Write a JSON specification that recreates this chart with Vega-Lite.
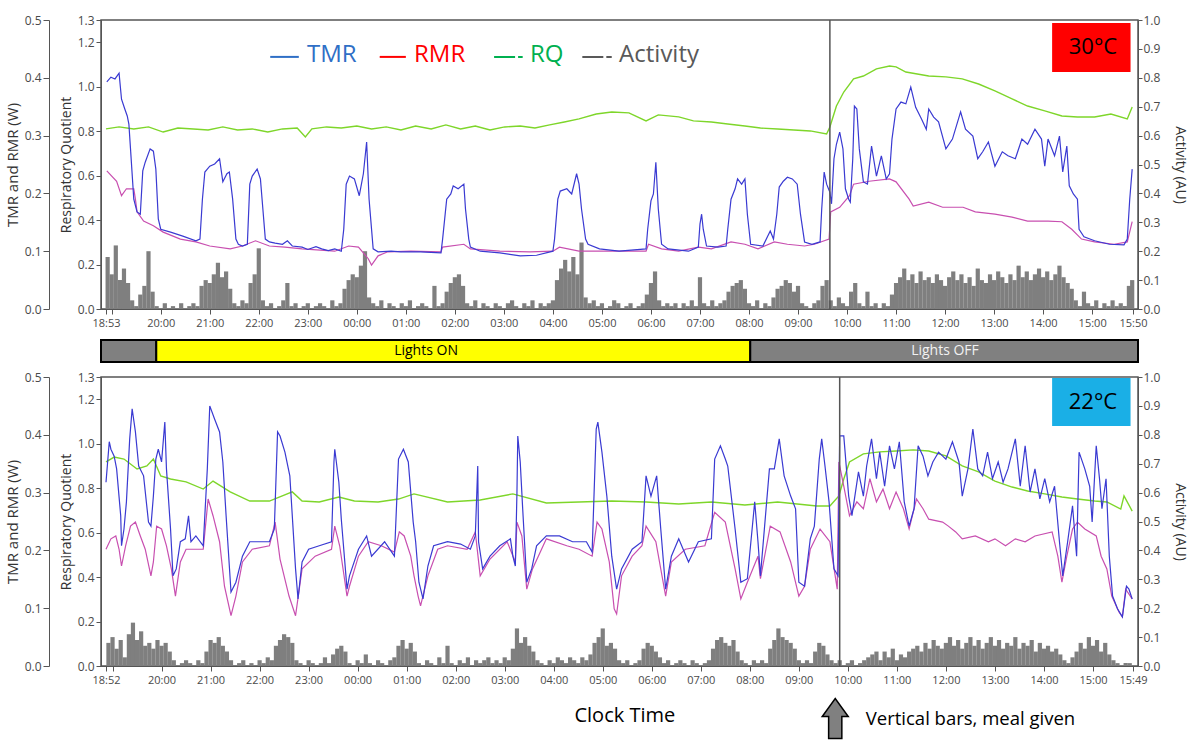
{
"$schema":"https://vega.github.io/schema/vega-lite/v6.json",
"padding":{"left":4,"top":13,"right":5,"bottom":0},
"background":"white",
"spacing":0,
"bounds":"flush",
"datasets":{
"tTMR":[{"m":54,"v":0.393},{"m":59,"v":0.401},{"m":64,"v":0.398},{"m":69,"v":0.408},{"m":72,"v":0.363},{"m":76,"v":0.346},{"m":79,"v":0.334},{"m":81,"v":0.32},{"m":83,"v":0.277},{"m":87,"v":0.19},{"m":91,"v":0.168},{"m":95,"v":0.164},{"m":98,"v":0.239},{"m":101,"v":0.254},{"m":107,"v":0.277},{"m":111,"v":0.273},{"m":114,"v":0.242},{"m":117,"v":0.156},{"m":120,"v":0.138},{"m":132,"v":0.133},{"m":147,"v":0.126},{"m":163,"v":0.118},{"m":168,"v":0.121},{"m":171,"v":0.19},{"m":174,"v":0.237},{"m":180,"v":0.247},{"m":186,"v":0.251},{"m":192,"v":0.26},{"m":196,"v":0.22},{"m":201,"v":0.234},{"m":204,"v":0.237},{"m":208,"v":0.19},{"m":212,"v":0.121},{"m":215,"v":0.112},{"m":220,"v":0.109},{"m":226,"v":0.112},{"m":229,"v":0.216},{"m":232,"v":0.23},{"m":238,"v":0.242},{"m":242,"v":0.225},{"m":245,"v":0.173},{"m":248,"v":0.121},{"m":253,"v":0.116},{"m":260,"v":0.114},{"m":269,"v":0.112},{"m":275,"v":0.118},{"m":281,"v":0.109},{"m":293,"v":0.107},{"m":300,"v":0.103},{"m":310,"v":0.108},{"m":317,"v":0.104},{"m":325,"v":0.101},{"m":333,"v":0.104},{"m":341,"v":0.1},{"m":344,"v":0.138},{"m":347,"v":0.216},{"m":351,"v":0.23},{"m":357,"v":0.225},{"m":363,"v":0.196},{"m":368,"v":0.234},{"m":372,"v":0.289},{"m":375,"v":0.19},{"m":380,"v":0.104},{"m":386,"v":0.099},{"m":402,"v":0.1},{"m":414,"v":0.099},{"m":438,"v":0.099},{"m":463,"v":0.097},{"m":465,"v":0.121},{"m":470,"v":0.19},{"m":475,"v":0.199},{"m":478,"v":0.213},{"m":484,"v":0.208},{"m":491,"v":0.216},{"m":493,"v":0.173},{"m":497,"v":0.121},{"m":499,"v":0.107},{"m":511,"v":0.1},{"m":535,"v":0.097},{"m":560,"v":0.092},{"m":580,"v":0.093},{"m":600,"v":0.1},{"m":602,"v":0.121},{"m":606,"v":0.19},{"m":609,"v":0.204},{"m":617,"v":0.208},{"m":623,"v":0.199},{"m":629,"v":0.234},{"m":632,"v":0.216},{"m":635,"v":0.173},{"m":640,"v":0.121},{"m":643,"v":0.112},{"m":657,"v":0.104},{"m":681,"v":0.1},{"m":714,"v":0.104},{"m":716,"v":0.138},{"m":720,"v":0.187},{"m":723,"v":0.199},{"m":726,"v":0.254},{"m":729,"v":0.173},{"m":733,"v":0.112},{"m":741,"v":0.104},{"m":766,"v":0.1},{"m":778,"v":0.107},{"m":780,"v":0.147},{"m":782,"v":0.164},{"m":784,"v":0.138},{"m":788,"v":0.109},{"m":802,"v":0.107},{"m":812,"v":0.109},{"m":814,"v":0.138},{"m":818,"v":0.19},{"m":823,"v":0.208},{"m":826,"v":0.225},{"m":831,"v":0.216},{"m":835,"v":0.225},{"m":838,"v":0.164},{"m":842,"v":0.112},{"m":857,"v":0.109},{"m":866,"v":0.135},{"m":870,"v":0.121},{"m":874,"v":0.164},{"m":877,"v":0.211},{"m":882,"v":0.221},{"m":887,"v":0.228},{"m":893,"v":0.225},{"m":899,"v":0.216},{"m":903,"v":0.164},{"m":908,"v":0.116},{"m":917,"v":0.112},{"m":927,"v":0.116},{"m":929,"v":0.173},{"m":932,"v":0.237},{"m":935,"v":0.216},{"m":939,"v":0.202},{"m":941,"v":0.182},{"m":944,"v":0.26},{"m":947,"v":0.285},{"m":951,"v":0.306},{"m":955,"v":0.277},{"m":958,"v":0.208},{"m":962,"v":0.19},{"m":964,"v":0.185},{"m":967,"v":0.26},{"m":969,"v":0.351},{"m":972,"v":0.346},{"m":975,"v":0.277},{"m":980,"v":0.22},{"m":985,"v":0.216},{"m":990,"v":0.282},{"m":996,"v":0.23},{"m":1002,"v":0.265},{"m":1008,"v":0.225},{"m":1012,"v":0.234},{"m":1015,"v":0.294},{"m":1020,"v":0.346},{"m":1026,"v":0.358},{"m":1032,"v":0.355},{"m":1038,"v":0.384},{"m":1044,"v":0.349},{"m":1051,"v":0.329},{"m":1057,"v":0.311},{"m":1060,"v":0.346},{"m":1066,"v":0.332},{"m":1072,"v":0.324},{"m":1081,"v":0.277},{"m":1089,"v":0.294},{"m":1099,"v":0.341},{"m":1105,"v":0.311},{"m":1114,"v":0.299},{"m":1120,"v":0.26},{"m":1126,"v":0.272},{"m":1133,"v":0.289},{"m":1141,"v":0.247},{"m":1150,"v":0.272},{"m":1157,"v":0.265},{"m":1166,"v":0.26},{"m":1174,"v":0.294},{"m":1181,"v":0.285},{"m":1190,"v":0.311},{"m":1198,"v":0.294},{"m":1202,"v":0.247},{"m":1206,"v":0.294},{"m":1214,"v":0.265},{"m":1220,"v":0.299},{"m":1224,"v":0.237},{"m":1229,"v":0.282},{"m":1232,"v":0.213},{"m":1237,"v":0.199},{"m":1242,"v":0.19},{"m":1244,"v":0.138},{"m":1250,"v":0.125},{"m":1263,"v":0.118},{"m":1281,"v":0.112},{"m":1299,"v":0.111},{"m":1303,"v":0.121},{"m":1306,"v":0.19},{"m":1309,"v":0.242}],
"tRMR":[{"m":54,"v":0.239},{"m":66,"v":0.221},{"m":72,"v":0.196},{"m":78,"v":0.208},{"m":87,"v":0.208},{"m":89,"v":0.19},{"m":91,"v":0.168},{"m":99,"v":0.152},{"m":111,"v":0.144},{"m":123,"v":0.133},{"m":144,"v":0.121},{"m":163,"v":0.116},{"m":180,"v":0.109},{"m":205,"v":0.104},{"m":220,"v":0.109},{"m":236,"v":0.118},{"m":253,"v":0.109},{"m":272,"v":0.107},{"m":293,"v":0.104},{"m":333,"v":0.1},{"m":350,"v":0.109},{"m":362,"v":0.107},{"m":374,"v":0.087},{"m":378,"v":0.076},{"m":386,"v":0.092},{"m":398,"v":0.099},{"m":426,"v":0.1},{"m":463,"v":0.099},{"m":465,"v":0.107},{"m":491,"v":0.112},{"m":499,"v":0.104},{"m":535,"v":0.1},{"m":572,"v":0.099},{"m":600,"v":0.1},{"m":608,"v":0.107},{"m":632,"v":0.1},{"m":681,"v":0.1},{"m":714,"v":0.1},{"m":717,"v":0.112},{"m":733,"v":0.104},{"m":754,"v":0.1},{"m":778,"v":0.107},{"m":794,"v":0.104},{"m":818,"v":0.116},{"m":835,"v":0.112},{"m":851,"v":0.104},{"m":871,"v":0.116},{"m":887,"v":0.112},{"m":908,"v":0.109},{"m":920,"v":0.112},{"m":938,"v":0.121},{"m":940,"v":0.168},{"m":951,"v":0.176},{"m":963,"v":0.196},{"m":968,"v":0.216},{"m":987,"v":0.221},{"m":1012,"v":0.225},{"m":1020,"v":0.22},{"m":1036,"v":0.19},{"m":1041,"v":0.178},{"m":1060,"v":0.185},{"m":1077,"v":0.176},{"m":1102,"v":0.176},{"m":1117,"v":0.168},{"m":1141,"v":0.164},{"m":1162,"v":0.159},{"m":1181,"v":0.152},{"m":1206,"v":0.152},{"m":1223,"v":0.151},{"m":1235,"v":0.138},{"m":1247,"v":0.121},{"m":1263,"v":0.116},{"m":1287,"v":0.112},{"m":1303,"v":0.116},{"m":1309,"v":0.151}],
"tRQ":[{"m":53,"v":0.81},{"m":69,"v":0.819},{"m":87,"v":0.81},{"m":105,"v":0.819},{"m":123,"v":0.796},{"m":141,"v":0.814},{"m":160,"v":0.81},{"m":178,"v":0.805},{"m":196,"v":0.819},{"m":214,"v":0.805},{"m":232,"v":0.81},{"m":251,"v":0.796},{"m":269,"v":0.81},{"m":287,"v":0.814},{"m":297,"v":0.774},{"m":305,"v":0.81},{"m":323,"v":0.819},{"m":341,"v":0.814},{"m":360,"v":0.823},{"m":378,"v":0.81},{"m":396,"v":0.819},{"m":414,"v":0.805},{"m":432,"v":0.823},{"m":451,"v":0.81},{"m":469,"v":0.828},{"m":487,"v":0.81},{"m":505,"v":0.823},{"m":523,"v":0.805},{"m":541,"v":0.819},{"m":560,"v":0.823},{"m":578,"v":0.814},{"m":596,"v":0.828},{"m":614,"v":0.841},{"m":632,"v":0.855},{"m":653,"v":0.877},{"m":672,"v":0.886},{"m":693,"v":0.882},{"m":714,"v":0.846},{"m":729,"v":0.873},{"m":754,"v":0.864},{"m":772,"v":0.846},{"m":794,"v":0.841},{"m":814,"v":0.832},{"m":835,"v":0.823},{"m":854,"v":0.814},{"m":875,"v":0.81},{"m":895,"v":0.805},{"m":915,"v":0.801},{"m":935,"v":0.787},{"m":939,"v":0.819},{"m":947,"v":0.913},{"m":956,"v":0.976},{"m":968,"v":1.035},{"m":980,"v":1.048},{"m":996,"v":1.08},{"m":1012,"v":1.093},{"m":1020,"v":1.089},{"m":1032,"v":1.066},{"m":1060,"v":1.048},{"m":1081,"v":1.044},{"m":1101,"v":1.035},{"m":1121,"v":1.012},{"m":1141,"v":0.981},{"m":1162,"v":0.945},{"m":1181,"v":0.913},{"m":1202,"v":0.891},{"m":1223,"v":0.868},{"m":1242,"v":0.864},{"m":1263,"v":0.864},{"m":1283,"v":0.877},{"m":1303,"v":0.855},{"m":1309,"v":0.909}],
"tAct":[{"m":55,"a":0.18},{"m":60,"a":0.12},{"m":65,"a":0.22},{"m":70,"a":0.1},{"m":75,"a":0.14},{"m":80,"a":0.09},{"m":85,"a":0.03},{"m":90,"a":0.01},{"m":95,"a":0.05},{"m":100,"a":0.08},{"m":105,"a":0.2},{"m":110,"a":0.06},{"m":115,"a":0.01},{"m":120,"a":0},{"m":125,"a":0.02},{"m":130,"a":0},{"m":135,"a":0.01},{"m":140,"a":0},{"m":145,"a":0.02},{"m":150,"a":0},{"m":155,"a":0.01},{"m":160,"a":0.02},{"m":165,"a":0.01},{"m":170,"a":0.08},{"m":175,"a":0.1},{"m":180,"a":0.09},{"m":185,"a":0.12},{"m":190,"a":0.16},{"m":195,"a":0.11},{"m":200,"a":0.13},{"m":205,"a":0.07},{"m":210,"a":0.02},{"m":215,"a":0.01},{"m":220,"a":0.03},{"m":225,"a":0.02},{"m":230,"a":0.09},{"m":235,"a":0.12},{"m":240,"a":0.21},{"m":245,"a":0.03},{"m":250,"a":0.01},{"m":255,"a":0.02},{"m":260,"a":0},{"m":265,"a":0.01},{"m":270,"a":0.03},{"m":275,"a":0.09},{"m":280,"a":0.01},{"m":285,"a":0.02},{"m":290,"a":0},{"m":295,"a":0.01},{"m":300,"a":0.02},{"m":305,"a":0},{"m":310,"a":0.01},{"m":315,"a":0.02},{"m":320,"a":0.01},{"m":325,"a":0},{"m":330,"a":0.03},{"m":335,"a":0.01},{"m":340,"a":0.02},{"m":345,"a":0.07},{"m":350,"a":0.1},{"m":355,"a":0.12},{"m":360,"a":0.11},{"m":365,"a":0.15},{"m":370,"a":0.2},{"m":375,"a":0.04},{"m":380,"a":0.02},{"m":385,"a":0.01},{"m":390,"a":0.03},{"m":395,"a":0},{"m":400,"a":0.02},{"m":405,"a":0.01},{"m":410,"a":0},{"m":415,"a":0.02},{"m":420,"a":0.01},{"m":425,"a":0.03},{"m":430,"a":0},{"m":435,"a":0.01},{"m":440,"a":0.02},{"m":445,"a":0.01},{"m":450,"a":0},{"m":455,"a":0.08},{"m":460,"a":0.01},{"m":465,"a":0.02},{"m":470,"a":0.06},{"m":475,"a":0.09},{"m":480,"a":0.11},{"m":485,"a":0.12},{"m":490,"a":0.08},{"m":495,"a":0.02},{"m":500,"a":0.01},{"m":505,"a":0.03},{"m":510,"a":0},{"m":515,"a":0.02},{"m":520,"a":0.01},{"m":525,"a":0},{"m":530,"a":0.02},{"m":535,"a":0.01},{"m":540,"a":0},{"m":545,"a":0.02},{"m":550,"a":0.03},{"m":555,"a":0.01},{"m":560,"a":0},{"m":565,"a":0.02},{"m":570,"a":0.01},{"m":575,"a":0.03},{"m":580,"a":0},{"m":585,"a":0.02},{"m":590,"a":0.01},{"m":595,"a":0.02},{"m":600,"a":0.03},{"m":605,"a":0.1},{"m":610,"a":0.14},{"m":615,"a":0.17},{"m":620,"a":0.13},{"m":625,"a":0.18},{"m":630,"a":0.12},{"m":635,"a":0.23},{"m":640,"a":0.04},{"m":645,"a":0.02},{"m":650,"a":0.03},{"m":655,"a":0.01},{"m":660,"a":0.02},{"m":665,"a":0},{"m":670,"a":0.01},{"m":675,"a":0.03},{"m":680,"a":0.02},{"m":685,"a":0},{"m":690,"a":0.01},{"m":695,"a":0.02},{"m":700,"a":0},{"m":705,"a":0.01},{"m":710,"a":0.02},{"m":715,"a":0.05},{"m":720,"a":0.09},{"m":725,"a":0.13},{"m":730,"a":0.03},{"m":735,"a":0.01},{"m":740,"a":0.02},{"m":745,"a":0.01},{"m":750,"a":0.02},{"m":755,"a":0},{"m":760,"a":0.02},{"m":765,"a":0.01},{"m":770,"a":0.03},{"m":775,"a":0.01},{"m":780,"a":0.11},{"m":785,"a":0.02},{"m":790,"a":0.01},{"m":795,"a":0.03},{"m":800,"a":0.01},{"m":805,"a":0.02},{"m":810,"a":0.03},{"m":815,"a":0.06},{"m":820,"a":0.08},{"m":825,"a":0.09},{"m":830,"a":0.1},{"m":835,"a":0.07},{"m":840,"a":0.02},{"m":845,"a":0.01},{"m":850,"a":0.03},{"m":855,"a":0},{"m":860,"a":0.02},{"m":865,"a":0.01},{"m":870,"a":0.04},{"m":875,"a":0.07},{"m":880,"a":0.08},{"m":885,"a":0.1},{"m":890,"a":0.09},{"m":895,"a":0.06},{"m":900,"a":0.08},{"m":905,"a":0.02},{"m":910,"a":0.01},{"m":915,"a":0},{"m":920,"a":0.02},{"m":925,"a":0.03},{"m":930,"a":0.08},{"m":935,"a":0.1},{"m":940,"a":0.03},{"m":945,"a":0.01},{"m":950,"a":0.04},{"m":955,"a":0.02},{"m":960,"a":0.01},{"m":965,"a":0.06},{"m":970,"a":0.09},{"m":975,"a":0.02},{"m":980,"a":0.01},{"m":985,"a":0.06},{"m":990,"a":0.01},{"m":995,"a":0.02},{"m":1000,"a":0},{"m":1005,"a":0.02},{"m":1010,"a":0.01},{"m":1015,"a":0.05},{"m":1020,"a":0.09},{"m":1025,"a":0.11},{"m":1030,"a":0.14},{"m":1035,"a":0.1},{"m":1040,"a":0.12},{"m":1045,"a":0.09},{"m":1050,"a":0.13},{"m":1055,"a":0.1},{"m":1060,"a":0.11},{"m":1065,"a":0.09},{"m":1070,"a":0.12},{"m":1075,"a":0.1},{"m":1080,"a":0.08},{"m":1085,"a":0.11},{"m":1090,"a":0.13},{"m":1095,"a":0.1},{"m":1100,"a":0.12},{"m":1105,"a":0.09},{"m":1110,"a":0.11},{"m":1115,"a":0.08},{"m":1120,"a":0.14},{"m":1125,"a":0.1},{"m":1130,"a":0.09},{"m":1135,"a":0.12},{"m":1140,"a":0.1},{"m":1145,"a":0.13},{"m":1150,"a":0.11},{"m":1155,"a":0.09},{"m":1160,"a":0.12},{"m":1165,"a":0.1},{"m":1170,"a":0.15},{"m":1175,"a":0.11},{"m":1180,"a":0.13},{"m":1185,"a":0.1},{"m":1190,"a":0.12},{"m":1195,"a":0.14},{"m":1200,"a":0.11},{"m":1205,"a":0.13},{"m":1210,"a":0.1},{"m":1215,"a":0.12},{"m":1220,"a":0.15},{"m":1225,"a":0.11},{"m":1230,"a":0.09},{"m":1235,"a":0.07},{"m":1240,"a":0.03},{"m":1245,"a":0.01},{"m":1250,"a":0.06},{"m":1255,"a":0.02},{"m":1260,"a":0.01},{"m":1265,"a":0.03},{"m":1270,"a":0},{"m":1275,"a":0.02},{"m":1280,"a":0.01},{"m":1285,"a":0.03},{"m":1290,"a":0.01},{"m":1295,"a":0.02},{"m":1300,"a":0.01},{"m":1305,"a":0.08},{"m":1309,"a":0.1}],
"bTMR":[{"m":52,"v":0.318},{"m":56,"v":0.388},{"m":58,"v":0.375},{"m":62,"v":0.363},{"m":65,"v":0.341},{"m":70,"v":0.26},{"m":71,"v":0.208},{"m":74,"v":0.237},{"m":77,"v":0.284},{"m":81,"v":0.393},{"m":84,"v":0.445},{"m":88,"v":0.405},{"m":92,"v":0.346},{"m":98,"v":0.329},{"m":104,"v":0.249},{"m":107,"v":0.242},{"m":110,"v":0.294},{"m":113,"v":0.358},{"m":116,"v":0.375},{"m":120,"v":0.353},{"m":124,"v":0.422},{"m":126,"v":0.341},{"m":131,"v":0.237},{"m":134,"v":0.156},{"m":138,"v":0.168},{"m":143,"v":0.215},{"m":149,"v":0.22},{"m":153,"v":0.26},{"m":156,"v":0.215},{"m":162,"v":0.225},{"m":171,"v":0.208},{"m":176,"v":0.341},{"m":179,"v":0.45},{"m":185,"v":0.427},{"m":191,"v":0.405},{"m":195,"v":0.353},{"m":199,"v":0.26},{"m":205,"v":0.128},{"m":211,"v":0.145},{"m":219,"v":0.19},{"m":228,"v":0.215},{"m":240,"v":0.215},{"m":252,"v":0.215},{"m":258,"v":0.237},{"m":262,"v":0.405},{"m":265,"v":0.398},{"m":271,"v":0.37},{"m":277,"v":0.329},{"m":284,"v":0.168},{"m":287,"v":0.116},{"m":292,"v":0.18},{"m":300,"v":0.202},{"m":313,"v":0.208},{"m":328,"v":0.215},{"m":331,"v":0.353},{"m":332,"v":0.375},{"m":337,"v":0.318},{"m":340,"v":0.254},{"m":347,"v":0.133},{"m":350,"v":0.156},{"m":361,"v":0.202},{"m":371,"v":0.225},{"m":377,"v":0.19},{"m":393,"v":0.215},{"m":405,"v":0.19},{"m":410,"v":0.358},{"m":416,"v":0.375},{"m":422,"v":0.353},{"m":428,"v":0.249},{"m":431,"v":0.215},{"m":435,"v":0.145},{"m":440,"v":0.116},{"m":446,"v":0.173},{"m":453,"v":0.208},{"m":470,"v":0.215},{"m":486,"v":0.211},{"m":498,"v":0.202},{"m":504,"v":0.225},{"m":507,"v":0.346},{"m":508,"v":0.215},{"m":513,"v":0.168},{"m":522,"v":0.19},{"m":534,"v":0.208},{"m":547,"v":0.22},{"m":550,"v":0.19},{"m":553,"v":0.173},{"m":555,"v":0.301},{"m":556,"v":0.398},{"m":559,"v":0.353},{"m":562,"v":0.272},{"m":567,"v":0.145},{"m":573,"v":0.168},{"m":579,"v":0.208},{"m":591,"v":0.225},{"m":607,"v":0.225},{"m":623,"v":0.215},{"m":640,"v":0.215},{"m":647,"v":0.197},{"m":652,"v":0.41},{"m":654,"v":0.422},{"m":659,"v":0.37},{"m":665,"v":0.294},{"m":671,"v":0.19},{"m":677,"v":0.133},{"m":683,"v":0.168},{"m":696,"v":0.202},{"m":708,"v":0.215},{"m":713,"v":0.329},{"m":719,"v":0.294},{"m":726,"v":0.329},{"m":731,"v":0.237},{"m":737,"v":0.133},{"m":744,"v":0.19},{"m":753,"v":0.22},{"m":765,"v":0.18},{"m":777,"v":0.215},{"m":793,"v":0.22},{"m":797,"v":0.358},{"m":804,"v":0.381},{"m":810,"v":0.358},{"m":813,"v":0.346},{"m":822,"v":0.237},{"m":829,"v":0.145},{"m":837,"v":0.151},{"m":846,"v":0.284},{"m":850,"v":0.215},{"m":853,"v":0.156},{"m":864,"v":0.341},{"m":870,"v":0.341},{"m":876,"v":0.393},{"m":882,"v":0.329},{"m":890,"v":0.294},{"m":896,"v":0.272},{"m":900,"v":0.145},{"m":907,"v":0.138},{"m":914,"v":0.22},{"m":919,"v":0.242},{"m":925,"v":0.358},{"m":928,"v":0.393},{"m":932,"v":0.346},{"m":937,"v":0.284},{"m":943,"v":0.168},{"m":948,"v":0.156},{"m":950,"v":0.398},{"m":955,"v":0.398},{"m":961,"v":0.294},{"m":965,"v":0.26},{"m":973,"v":0.336},{"m":979,"v":0.294},{"m":983,"v":0.346},{"m":989,"v":0.393},{"m":995,"v":0.324},{"m":999,"v":0.37},{"m":1005,"v":0.311},{"m":1011,"v":0.381},{"m":1017,"v":0.341},{"m":1023,"v":0.388},{"m":1029,"v":0.284},{"m":1035,"v":0.242},{"m":1041,"v":0.272},{"m":1046,"v":0.381},{"m":1052,"v":0.363},{"m":1058,"v":0.329},{"m":1064,"v":0.353},{"m":1071,"v":0.37},{"m":1080,"v":0.358},{"m":1088,"v":0.388},{"m":1096,"v":0.353},{"m":1100,"v":0.294},{"m":1107,"v":0.341},{"m":1113,"v":0.41},{"m":1119,"v":0.341},{"m":1125,"v":0.329},{"m":1131,"v":0.37},{"m":1137,"v":0.324},{"m":1144,"v":0.353},{"m":1150,"v":0.318},{"m":1156,"v":0.341},{"m":1165,"v":0.393},{"m":1171,"v":0.311},{"m":1177,"v":0.381},{"m":1183,"v":0.301},{"m":1189,"v":0.341},{"m":1195,"v":0.289},{"m":1201,"v":0.324},{"m":1207,"v":0.284},{"m":1213,"v":0.311},{"m":1219,"v":0.215},{"m":1223,"v":0.156},{"m":1229,"v":0.215},{"m":1235,"v":0.277},{"m":1240,"v":0.19},{"m":1243,"v":0.37},{"m":1250,"v":0.341},{"m":1256,"v":0.311},{"m":1259,"v":0.249},{"m":1264,"v":0.381},{"m":1268,"v":0.324},{"m":1271,"v":0.272},{"m":1276,"v":0.324},{"m":1280,"v":0.19},{"m":1284,"v":0.121},{"m":1290,"v":0.099},{"m":1296,"v":0.085},{"m":1301,"v":0.138},{"m":1304,"v":0.133},{"m":1308,"v":0.116}],
"bRMR":[{"m":52,"v":0.202},{"m":58,"v":0.22},{"m":64,"v":0.225},{"m":68,"v":0.202},{"m":71,"v":0.173},{"m":76,"v":0.208},{"m":82,"v":0.242},{"m":88,"v":0.249},{"m":94,"v":0.225},{"m":100,"v":0.202},{"m":107,"v":0.156},{"m":110,"v":0.18},{"m":114,"v":0.242},{"m":120,"v":0.237},{"m":126,"v":0.208},{"m":132,"v":0.168},{"m":137,"v":0.121},{"m":143,"v":0.18},{"m":150,"v":0.202},{"m":161,"v":0.202},{"m":171,"v":0.202},{"m":177,"v":0.289},{"m":183,"v":0.26},{"m":191,"v":0.215},{"m":197,"v":0.138},{"m":205,"v":0.087},{"m":211,"v":0.121},{"m":219,"v":0.18},{"m":231,"v":0.202},{"m":252,"v":0.208},{"m":259,"v":0.249},{"m":265,"v":0.185},{"m":276,"v":0.121},{"m":284,"v":0.087},{"m":292,"v":0.168},{"m":308,"v":0.19},{"m":328,"v":0.202},{"m":332,"v":0.242},{"m":338,"v":0.208},{"m":347,"v":0.121},{"m":350,"v":0.138},{"m":361,"v":0.19},{"m":373,"v":0.215},{"m":389,"v":0.208},{"m":405,"v":0.197},{"m":411,"v":0.232},{"m":417,"v":0.225},{"m":425,"v":0.19},{"m":429,"v":0.156},{"m":434,"v":0.121},{"m":437,"v":0.104},{"m":446,"v":0.156},{"m":458,"v":0.202},{"m":470,"v":0.208},{"m":494,"v":0.202},{"m":504,"v":0.232},{"m":510,"v":0.156},{"m":522,"v":0.185},{"m":543,"v":0.215},{"m":553,"v":0.18},{"m":555,"v":0.249},{"m":561,"v":0.225},{"m":567,"v":0.133},{"m":574,"v":0.168},{"m":591,"v":0.22},{"m":616,"v":0.208},{"m":631,"v":0.202},{"m":647,"v":0.19},{"m":653,"v":0.249},{"m":659,"v":0.237},{"m":668,"v":0.18},{"m":674,"v":0.099},{"m":677,"v":0.09},{"m":683,"v":0.156},{"m":696,"v":0.19},{"m":708,"v":0.208},{"m":713,"v":0.242},{"m":725,"v":0.215},{"m":737,"v":0.121},{"m":744,"v":0.18},{"m":761,"v":0.202},{"m":785,"v":0.208},{"m":797,"v":0.266},{"m":810,"v":0.249},{"m":822,"v":0.168},{"m":829,"v":0.116},{"m":837,"v":0.145},{"m":850,"v":0.19},{"m":853,"v":0.151},{"m":865,"v":0.242},{"m":877,"v":0.232},{"m":890,"v":0.18},{"m":900,"v":0.121},{"m":907,"v":0.138},{"m":914,"v":0.202},{"m":926,"v":0.237},{"m":938,"v":0.215},{"m":947,"v":0.133},{"m":949,"v":0.353},{"m":955,"v":0.311},{"m":962,"v":0.26},{"m":971,"v":0.284},{"m":979,"v":0.272},{"m":987,"v":0.324},{"m":995,"v":0.284},{"m":1003,"v":0.306},{"m":1011,"v":0.272},{"m":1019,"v":0.301},{"m":1028,"v":0.272},{"m":1035,"v":0.237},{"m":1044,"v":0.289},{"m":1052,"v":0.272},{"m":1059,"v":0.254},{"m":1076,"v":0.249},{"m":1083,"v":0.242},{"m":1092,"v":0.232},{"m":1100,"v":0.22},{"m":1116,"v":0.225},{"m":1132,"v":0.215},{"m":1140,"v":0.22},{"m":1153,"v":0.208},{"m":1165,"v":0.22},{"m":1177,"v":0.215},{"m":1189,"v":0.225},{"m":1210,"v":0.232},{"m":1217,"v":0.19},{"m":1222,"v":0.145},{"m":1228,"v":0.19},{"m":1235,"v":0.237},{"m":1241,"v":0.249},{"m":1250,"v":0.237},{"m":1264,"v":0.225},{"m":1270,"v":0.19},{"m":1277,"v":0.168},{"m":1283,"v":0.121},{"m":1292,"v":0.093},{"m":1296,"v":0.085},{"m":1300,"v":0.133},{"m":1308,"v":0.116}],
"bRQ":[{"m":52,"v":0.918},{"m":62,"v":0.94},{"m":74,"v":0.931},{"m":90,"v":0.886},{"m":102,"v":0.9},{"m":110,"v":0.931},{"m":119,"v":0.855},{"m":131,"v":0.841},{"m":150,"v":0.828},{"m":171,"v":0.796},{"m":183,"v":0.832},{"m":204,"v":0.783},{"m":228,"v":0.742},{"m":252,"v":0.742},{"m":280,"v":0.783},{"m":292,"v":0.742},{"m":313,"v":0.738},{"m":337,"v":0.76},{"m":356,"v":0.742},{"m":385,"v":0.738},{"m":410,"v":0.751},{"m":429,"v":0.774},{"m":470,"v":0.738},{"m":510,"v":0.747},{"m":550,"v":0.774},{"m":591,"v":0.733},{"m":631,"v":0.738},{"m":671,"v":0.742},{"m":713,"v":0.738},{"m":753,"v":0.729},{"m":793,"v":0.738},{"m":834,"v":0.724},{"m":874,"v":0.738},{"m":898,"v":0.729},{"m":922,"v":0.72},{"m":938,"v":0.72},{"m":949,"v":0.765},{"m":955,"v":0.841},{"m":962,"v":0.918},{"m":979,"v":0.954},{"m":999,"v":0.963},{"m":1019,"v":0.967},{"m":1040,"v":0.972},{"m":1059,"v":0.967},{"m":1080,"v":0.945},{"m":1100,"v":0.9},{"m":1120,"v":0.873},{"m":1140,"v":0.832},{"m":1161,"v":0.805},{"m":1180,"v":0.787},{"m":1201,"v":0.774},{"m":1222,"v":0.76},{"m":1241,"v":0.751},{"m":1262,"v":0.742},{"m":1277,"v":0.738},{"m":1294,"v":0.706},{"m":1298,"v":0.765},{"m":1308,"v":0.697}],
"bAct":[{"m":55,"a":0.08},{"m":60,"a":0.1},{"m":65,"a":0.06},{"m":70,"a":0.09},{"m":75,"a":0.03},{"m":80,"a":0.11},{"m":85,"a":0.15},{"m":90,"a":0.09},{"m":95,"a":0.12},{"m":100,"a":0.07},{"m":105,"a":0.08},{"m":110,"a":0.06},{"m":115,"a":0.09},{"m":120,"a":0.07},{"m":125,"a":0.08},{"m":130,"a":0.05},{"m":135,"a":0.02},{"m":140,"a":0},{"m":145,"a":0.01},{"m":150,"a":0.02},{"m":155,"a":0.01},{"m":160,"a":0},{"m":165,"a":0.02},{"m":170,"a":0.01},{"m":175,"a":0.05},{"m":180,"a":0.09},{"m":185,"a":0.08},{"m":190,"a":0.1},{"m":195,"a":0.07},{"m":200,"a":0.05},{"m":205,"a":0.02},{"m":210,"a":0},{"m":215,"a":0.01},{"m":220,"a":0.02},{"m":225,"a":0},{"m":230,"a":0.01},{"m":235,"a":0},{"m":240,"a":0.02},{"m":245,"a":0.01},{"m":250,"a":0.03},{"m":255,"a":0.02},{"m":260,"a":0.07},{"m":265,"a":0.09},{"m":270,"a":0.11},{"m":275,"a":0.1},{"m":280,"a":0.08},{"m":285,"a":0.02},{"m":290,"a":0.01},{"m":295,"a":0},{"m":300,"a":0.02},{"m":305,"a":0.01},{"m":310,"a":0},{"m":315,"a":0.01},{"m":320,"a":0.03},{"m":325,"a":0.01},{"m":330,"a":0.04},{"m":335,"a":0.06},{"m":340,"a":0.07},{"m":345,"a":0.05},{"m":350,"a":0.01},{"m":355,"a":0},{"m":360,"a":0.02},{"m":365,"a":0.01},{"m":370,"a":0.04},{"m":375,"a":0.01},{"m":380,"a":0},{"m":385,"a":0.02},{"m":390,"a":0.01},{"m":395,"a":0},{"m":400,"a":0.02},{"m":405,"a":0.03},{"m":410,"a":0.07},{"m":415,"a":0.09},{"m":420,"a":0.06},{"m":425,"a":0.08},{"m":430,"a":0.05},{"m":435,"a":0.01},{"m":440,"a":0},{"m":445,"a":0.02},{"m":450,"a":0.01},{"m":455,"a":0},{"m":460,"a":0.03},{"m":465,"a":0.01},{"m":470,"a":0.07},{"m":475,"a":0.01},{"m":480,"a":0},{"m":485,"a":0.02},{"m":490,"a":0.01},{"m":495,"a":0.03},{"m":500,"a":0},{"m":505,"a":0.02},{"m":510,"a":0.01},{"m":515,"a":0.02},{"m":520,"a":0.03},{"m":525,"a":0.01},{"m":530,"a":0.02},{"m":535,"a":0.01},{"m":540,"a":0.03},{"m":545,"a":0.02},{"m":550,"a":0.06},{"m":555,"a":0.13},{"m":560,"a":0.08},{"m":565,"a":0.1},{"m":570,"a":0.07},{"m":575,"a":0.05},{"m":580,"a":0.02},{"m":585,"a":0.01},{"m":590,"a":0},{"m":595,"a":0.02},{"m":600,"a":0.01},{"m":605,"a":0.03},{"m":610,"a":0.02},{"m":615,"a":0.01},{"m":620,"a":0.03},{"m":625,"a":0.02},{"m":630,"a":0.01},{"m":635,"a":0.03},{"m":640,"a":0.02},{"m":645,"a":0.04},{"m":650,"a":0.08},{"m":655,"a":0.1},{"m":660,"a":0.13},{"m":665,"a":0.07},{"m":670,"a":0.08},{"m":675,"a":0.06},{"m":680,"a":0.02},{"m":685,"a":0.01},{"m":690,"a":0.02},{"m":695,"a":0},{"m":700,"a":0.01},{"m":705,"a":0.02},{"m":710,"a":0.06},{"m":715,"a":0.08},{"m":720,"a":0.07},{"m":725,"a":0.05},{"m":730,"a":0.03},{"m":735,"a":0.01},{"m":740,"a":0.02},{"m":745,"a":0},{"m":750,"a":0.01},{"m":755,"a":0.02},{"m":760,"a":0.01},{"m":765,"a":0},{"m":770,"a":0.02},{"m":775,"a":0.01},{"m":780,"a":0},{"m":785,"a":0.01},{"m":790,"a":0.02},{"m":795,"a":0.06},{"m":800,"a":0.09},{"m":805,"a":0.1},{"m":810,"a":0.08},{"m":815,"a":0.07},{"m":820,"a":0.09},{"m":825,"a":0.05},{"m":830,"a":0.02},{"m":835,"a":0.01},{"m":840,"a":0},{"m":845,"a":0.02},{"m":850,"a":0.01},{"m":855,"a":0.02},{"m":860,"a":0.01},{"m":865,"a":0.06},{"m":870,"a":0.09},{"m":875,"a":0.13},{"m":880,"a":0.1},{"m":885,"a":0.09},{"m":890,"a":0.08},{"m":895,"a":0.06},{"m":900,"a":0.02},{"m":905,"a":0.01},{"m":910,"a":0.02},{"m":915,"a":0.01},{"m":920,"a":0.05},{"m":925,"a":0.08},{"m":930,"a":0.07},{"m":935,"a":0.04},{"m":940,"a":0.02},{"m":945,"a":0.01},{"m":950,"a":0.02},{"m":955,"a":0},{"m":960,"a":0.01},{"m":965,"a":0.02},{"m":970,"a":0},{"m":975,"a":0.01},{"m":980,"a":0.02},{"m":985,"a":0.03},{"m":990,"a":0.04},{"m":995,"a":0.05},{"m":1000,"a":0.02},{"m":1005,"a":0.05},{"m":1010,"a":0.03},{"m":1015,"a":0.06},{"m":1020,"a":0.02},{"m":1025,"a":0.04},{"m":1030,"a":0.03},{"m":1035,"a":0.05},{"m":1040,"a":0.06},{"m":1045,"a":0.07},{"m":1050,"a":0.05},{"m":1055,"a":0.08},{"m":1060,"a":0.06},{"m":1065,"a":0.09},{"m":1070,"a":0.07},{"m":1075,"a":0.06},{"m":1080,"a":0.08},{"m":1085,"a":0.1},{"m":1090,"a":0.07},{"m":1095,"a":0.09},{"m":1100,"a":0.06},{"m":1105,"a":0.08},{"m":1110,"a":0.1},{"m":1115,"a":0.07},{"m":1120,"a":0.09},{"m":1125,"a":0.06},{"m":1130,"a":0.08},{"m":1135,"a":0.1},{"m":1140,"a":0.07},{"m":1145,"a":0.09},{"m":1150,"a":0.06},{"m":1155,"a":0.08},{"m":1160,"a":0.07},{"m":1165,"a":0.1},{"m":1170,"a":0.06},{"m":1175,"a":0.08},{"m":1180,"a":0.07},{"m":1185,"a":0.09},{"m":1190,"a":0.05},{"m":1195,"a":0.08},{"m":1200,"a":0.06},{"m":1205,"a":0.07},{"m":1210,"a":0.05},{"m":1215,"a":0.06},{"m":1220,"a":0.04},{"m":1225,"a":0.02},{"m":1230,"a":0.01},{"m":1235,"a":0.03},{"m":1240,"a":0.05},{"m":1245,"a":0.08},{"m":1250,"a":0.06},{"m":1255,"a":0.1},{"m":1260,"a":0.07},{"m":1265,"a":0.09},{"m":1270,"a":0.05},{"m":1275,"a":0.08},{"m":1280,"a":0.04},{"m":1285,"a":0.02},{"m":1290,"a":0.01},{"m":1295,"a":0},{"m":1300,"a":0.01},{"m":1305,"a":0.01}]
},
"vconcat":[
{
"width":1037,"height":289,
"layer":[
{"data":{"name":"tAct"},"mark":{"type":"bar","color":"#7f7f7f","size":4.2,"orient":"vertical","clip":true},"encoding":{"x":{"field":"m","type":"quantitative","scale":{"domain":[53,1310],"nice":false,"zero":false},"axis":{"values":[53,60,120,180,240,300,360,420,480,540,600,660,720,780,840,900,960,1020,1080,1140,1200,1260,1310],"labelExpr":"datum.value == 60 ? '' : timeFormat(datetime(2024,0,1,18,datum.value),'%H:%M')","title":null,"tickSize":5,"labelPadding":3,"labelFontSize":11}},"y":{"field":"a","type":"quantitative","scale":{"domain":[0,1],"nice":false},"axis":{"orient":"right","values":[0,0.1,0.2,0.3,0.4,0.5,0.6,0.7,0.8,0.9,1.0],"format":".1f","title":"Activity (AU)","tickSize":4,"labelPadding":1,"titlePadding":13,"titleFontSize":14}}}},
{"data":{"name":"tRQ"},"mark":{"type":"line","color":"#7ed62a","strokeWidth":1.4},"encoding":{"x":{"field":"m","type":"quantitative"},"y":{"field":"v","type":"quantitative","scale":{"domain":[0,1.3],"nice":false},"axis":{"orient":"left","values":[0,0.2,0.4,0.6,0.8,1.0,1.2,1.3],"format":".1f","title":"Respiratory Quotient","tickSize":5,"titlePadding":4,"titleFontSize":14}}}},
{"data":{"name":"tRMR"},"mark":{"type":"line","color":"#c84fb0","strokeWidth":1.2},"encoding":{"x":{"field":"m","type":"quantitative"},"y":{"field":"v","type":"quantitative","scale":{"domain":[0,0.5],"nice":false},"axis":null}}},
{"data":{"name":"tTMR"},"mark":{"type":"line","color":"#3a3ad2","strokeWidth":1.2},"encoding":{"x":{"field":"m","type":"quantitative"},"y":{"field":"v","type":"quantitative","scale":{"domain":[0,0.5],"nice":false},"axis":{"orient":"left","offset":52,"values":[0,0.1,0.2,0.3,0.4,0.5],"format":".1f","title":"TMR and RMR (W)","tickSize":6,"titlePadding":4,"titleFontSize":15}}}},
{"data":{"values":[{}]},"mark":{"type":"rule","color":"#555","strokeWidth":1.5},"encoding":{"x":{"datum":939}}},
{"data":{"values":[{}]},"mark":{"type":"rect","color":"#ff0000"},"encoding":{"x":{"datum":1211},"x2":{"datum":1307},"y":{"datum":1.287,"scale":{"domain":[0,1.3],"nice":false},"axis":null},"y2":{"datum":1.066}}},
{"data":{"values":[{}]},"mark":{"type":"text","text":"30°C","font":"Open Sans","fontSize":22,"color":"#000"},"encoding":{"x":{"datum":1261},"y":{"datum":1.178,"scale":{"domain":[0,1.3],"nice":false},"axis":null}}},
{"data":{"values":[{}]},"mark":{"type":"rule","color":"#2f6fc6","strokeWidth":2},"encoding":{"x":{"datum":254},"x2":{"datum":289},"y":{"datum":1.134,"scale":{"domain":[0,1.3],"nice":false},"axis":null}}},
{"data":{"values":[{}]},"mark":{"type":"text","text":"TMR","font":"Open Sans","fontSize":24,"align":"left","baseline":"alphabetic","color":"#2f6fc6"},"encoding":{"x":{"datum":299},"y":{"datum":1.111,"scale":{"domain":[0,1.3],"nice":false},"axis":null}}},
{"data":{"values":[{}]},"mark":{"type":"rule","color":"#ff0000","strokeWidth":2},"encoding":{"x":{"datum":388},"x2":{"datum":420},"y":{"datum":1.134,"scale":{"domain":[0,1.3],"nice":false},"axis":null}}},
{"data":{"values":[{}]},"mark":{"type":"text","text":"RMR","font":"Open Sans","fontSize":24,"align":"left","baseline":"alphabetic","color":"#ff0000"},"encoding":{"x":{"datum":430},"y":{"datum":1.111,"scale":{"domain":[0,1.3],"nice":false},"axis":null}}},
{"data":{"values":[{}]},"mark":{"type":"rule","color":"#00b050","strokeWidth":2,"strokeDash":[21,3]},"encoding":{"x":{"datum":528},"x2":{"datum":563},"y":{"datum":1.134,"scale":{"domain":[0,1.3],"nice":false},"axis":null}}},
{"data":{"values":[{}]},"mark":{"type":"text","text":"RQ","font":"Open Sans","fontSize":24,"align":"left","baseline":"alphabetic","color":"#00b050"},"encoding":{"x":{"datum":572},"y":{"datum":1.111,"scale":{"domain":[0,1.3],"nice":false},"axis":null}}},
{"data":{"values":[{}]},"mark":{"type":"rule","color":"#595959","strokeWidth":2,"strokeDash":[21,3]},"encoding":{"x":{"datum":636},"x2":{"datum":672},"y":{"datum":1.134,"scale":{"domain":[0,1.3],"nice":false},"axis":null}}},
{"data":{"values":[{}]},"mark":{"type":"text","text":"Activity","font":"Open Sans","fontSize":24,"align":"left","baseline":"alphabetic","color":"#595959"},"encoding":{"x":{"datum":681},"y":{"datum":1.111,"scale":{"domain":[0,1.3],"nice":false},"axis":null}}}
],
"resolve":{"scale":{"y":"independent"}}
},
{
"width":1037,"height":68,"view":{"stroke":null},
"layer":[
{"data":{"values":[{"s":53,"e":120,"p":"off"},{"s":120,"e":840,"p":"on"},{"s":840,"e":1310,"p":"off"}]},"mark":{"type":"rect","stroke":"#000","strokeWidth":2},"encoding":{"x":{"field":"s","type":"quantitative","scale":{"domain":[53,1310],"nice":false,"zero":false},"axis":null},"x2":{"field":"e"},"y":{"datum":0.221,"scale":{"domain":[0,1],"nice":false},"axis":null},"y2":{"datum":0.544},"color":{"field":"p","type":"nominal","scale":{"domain":["off","on"],"range":["#808080","#ffff00"]},"legend":null}}},
{"data":{"values":[{}]},"mark":{"type":"text","text":"Lights ON","font":"Open Sans","fontSize":14,"color":"#000"},"encoding":{"x":{"datum":447},"y":{"datum":0.383}}},
{"data":{"values":[{}]},"mark":{"type":"text","text":"Lights OFF","font":"Open Sans","fontSize":14,"color":"#f2f2f2"},"encoding":{"x":{"datum":1076},"y":{"datum":0.383}}}
]
},
{
"width":1037,"height":289,
"layer":[
{"data":{"name":"bAct"},"mark":{"type":"bar","color":"#7f7f7f","size":4.2,"orient":"vertical","clip":true},"encoding":{"x":{"field":"m","type":"quantitative","scale":{"domain":[52,1309],"nice":false,"zero":false},"axis":{"values":[52,60,120,180,240,300,360,420,480,540,600,660,720,780,840,900,960,1020,1080,1140,1200,1260,1309],"labelExpr":"datum.value == 60 ? '' : timeFormat(datetime(2024,0,1,18,datum.value),'%H:%M')","title":null,"tickSize":5,"labelPadding":3,"labelFontSize":11}},"y":{"field":"a","type":"quantitative","scale":{"domain":[0,1],"nice":false},"axis":{"orient":"right","values":[0,0.1,0.2,0.3,0.4,0.5,0.6,0.7,0.8,0.9,1.0],"format":".1f","title":"Activity (AU)","tickSize":4,"labelPadding":1,"titlePadding":13,"titleFontSize":14}}}},
{"data":{"name":"bRQ"},"mark":{"type":"line","color":"#7ed62a","strokeWidth":1.4},"encoding":{"x":{"field":"m","type":"quantitative"},"y":{"field":"v","type":"quantitative","scale":{"domain":[0,1.3],"nice":false},"axis":{"orient":"left","values":[0,0.2,0.4,0.6,0.8,1.0,1.2,1.3],"format":".1f","title":"Respiratory Quotient","tickSize":5,"titlePadding":4,"titleFontSize":14}}}},
{"data":{"name":"bRMR"},"mark":{"type":"line","color":"#c84fb0","strokeWidth":1.2},"encoding":{"x":{"field":"m","type":"quantitative"},"y":{"field":"v","type":"quantitative","scale":{"domain":[0,0.5],"nice":false},"axis":null}}},
{"data":{"name":"bTMR"},"mark":{"type":"line","color":"#3a3ad2","strokeWidth":1.2},"encoding":{"x":{"field":"m","type":"quantitative"},"y":{"field":"v","type":"quantitative","scale":{"domain":[0,0.5],"nice":false},"axis":{"orient":"left","offset":52,"values":[0,0.1,0.2,0.3,0.4,0.5],"format":".1f","title":"TMR and RMR (W)","tickSize":6,"titlePadding":4,"titleFontSize":15}}}},
{"data":{"values":[{}]},"mark":{"type":"rule","color":"#555","strokeWidth":1.5},"encoding":{"x":{"datum":950}}},
{"data":{"values":[{}]},"mark":{"type":"rect","color":"#1aafe6"},"encoding":{"x":{"datum":1210},"x2":{"datum":1306},"y":{"datum":1.295,"scale":{"domain":[0,1.3],"nice":false},"axis":null},"y2":{"datum":1.08}}},
{"data":{"values":[{}]},"mark":{"type":"text","text":"22°C","font":"Open Sans","fontSize":22,"color":"#000"},"encoding":{"x":{"datum":1260},"y":{"datum":1.188,"scale":{"domain":[0,1.3],"nice":false},"axis":null}}}
],
"resolve":{"scale":{"y":"independent"}}
},
{
"width":1037,"height":75,"view":{"stroke":null},
"layer":[
{"data":{"values":[{}]},"mark":{"type":"text","text":"Clock Time","font":"Open Sans","fontSize":20,"color":"#000"},"encoding":{"x":{"datum":687,"scale":{"domain":[52,1309],"nice":false,"zero":false},"axis":null},"y":{"datum":0.333,"scale":{"domain":[0,1],"nice":false},"axis":null}}},
{"data":{"values":[{}]},"mark":{"type":"point","shape":"M -0.33 1 L 0.33 1 L 0.33 -0.1 L 0.65 -0.1 L 0 -1 L -0.65 -0.1 L -0.33 -0.1 Z","filled":true,"fill":"#808080","stroke":"#000","strokeWidth":1.5,"size":1600,"opacity":1},"encoding":{"x":{"datum":942},"y":{"datum":0.3}}},
{"data":{"values":[{}]},"mark":{"type":"text","text":"Vertical bars, meal given","font":"Open Sans","fontSize":18.5,"align":"left","color":"#000"},"encoding":{"x":{"datum":979},"y":{"datum":0.29}}}
]
}
],
"config":{
"font":"Open Sans",
"view":{"stroke":"#555","strokeWidth":1.5},
"axis":{"labelFont":"Open Sans","labelFontSize":12,"labelColor":"#4a4a4a","titleFont":"Open Sans","titleFontSize":13,"titleFontWeight":"normal","titleColor":"#333","domainColor":"#555","tickColor":"#555","grid":false,"labelFlush":false,"labelOverlap":false}
}
}
